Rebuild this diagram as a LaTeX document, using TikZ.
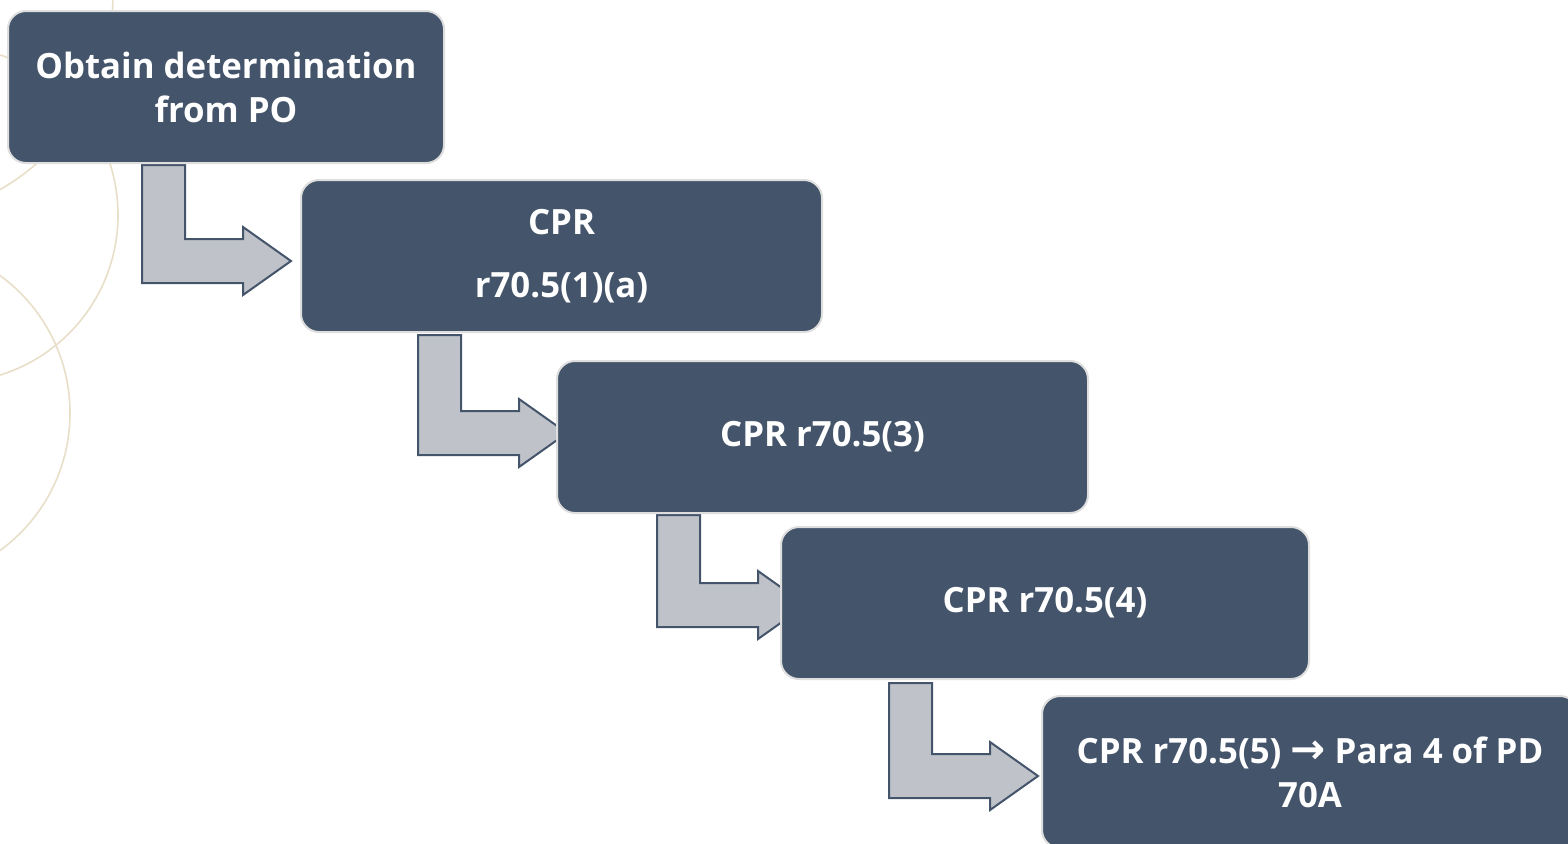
\documentclass[tikz,border=0pt]{standalone}
\usepackage{fontspec}
\setmainfont{Open Sans}
\newfontfamily\arrowfont{DejaVu Sans}
\usetikzlibrary{calc}
\pgfdeclarelayer{backlayer}
\pgfdeclarelayer{edgelayer}
\pgfdeclarelayer{nodelayer}
\pgfsetlayers{backlayer,edgelayer,nodelayer,main}
\definecolor{slate}{RGB}{68,84,106}
\definecolor{arrowgrey}{RGB}{191,195,201}
\definecolor{rimgrey}{RGB}{222,222,222}
\definecolor{sand}{RGB}{232,223,200}
\tikzstyle{stepbox}=[rectangle,rounded corners=9pt,fill=slate,draw=rimgrey,line width=1pt,text=white,align=center,inner sep=0pt,minimum height=76pt,font=\fontsize{17.4}{22}\selectfont\bfseries]
\tikzstyle{bentarrow}=[fill=arrowgrey,draw=slate,line width=1pt,line join=miter]
\tikzstyle{ring}=[draw=sand,line width=0.8pt]
\newcommand{\elbow}[2]{%
  \draw [style=bentarrow] (#1) -- ++(43,0) |- ($(#2)+(-48,-22)$) -- ($(#2)+(-48,-34)$) -- (#2) -- ($(#2)+(-48,34)$) -- ($(#2)+(-48,22)$) -| (#1) -- cycle;}

\begin{document}
\begin{tikzpicture}[x=0.5pt,y=-0.5pt]
	\useasboundingbox (0,0) rectangle (1568,843);
	\clip (0,0) rectangle (1568,843);
	\begin{pgfonlayer}{backlayer}
		\fill [white] (0,0) rectangle (1568,843);
		\draw [style=ring] (-49.5,215) circle [radius=83.75pt];
		\draw [style=ring] (-100,413) circle [radius=85pt];
		\draw [style=ring] (-111,-5) circle [radius=112pt];
	\end{pgfonlayer}
	\begin{pgfonlayer}{nodelayer}
		\node [style=stepbox, minimum width=218pt] (0) at (226,87) {Obtain determination\\from PO};
		\node [style=stepbox, minimum width=260.5pt] (1) at (561.5,256) {CPR\\[9.5pt]r70.5(1)(a)};
		\node [style=stepbox, minimum width=265.5pt] (2) at (822.5,437) {CPR r70.5(3)};
		\node [style=stepbox, minimum width=264pt] (3) at (1045,603) {CPR r70.5(4)};
		\node [style=stepbox, minimum width=268pt] (4) at (1310,772) {CPR r70.5(5) {\arrowfont\fontsize{21}{22}\selectfont →} Para 4 of PD\\70A};
	\end{pgfonlayer}
	\begin{pgfonlayer}{edgelayer}
		\coordinate (s0) at (142,165);
		\coordinate (h0) at (291,261);
		\coordinate (s1) at (418,335);
		\coordinate (h1) at (567,433);
		\coordinate (s2) at (657,515);
		\coordinate (h2) at (806,605);
		\coordinate (s3) at (889,683);
		\coordinate (h3) at (1038,776);
		\elbow{s0}{h0}
		\elbow{s1}{h1}
		\elbow{s2}{h2}
		\elbow{s3}{h3}
	\end{pgfonlayer}
\end{tikzpicture}
\end{document}
